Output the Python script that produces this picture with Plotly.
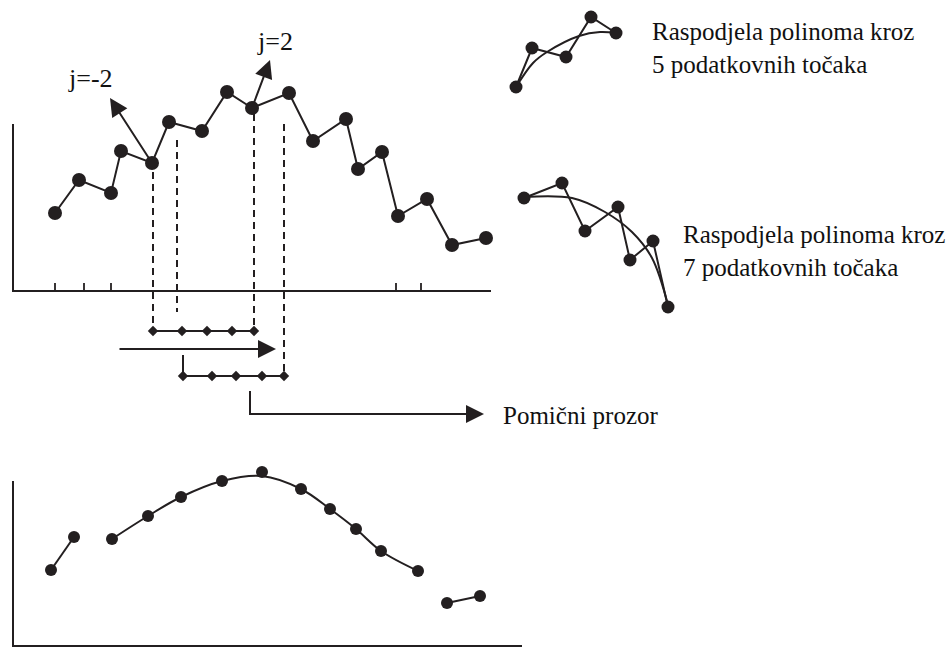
import plotly.graph_objects as go

# ---------------- data (canvas units) ----------------
noisy_x = [55, 79, 111, 121, 152, 169, 202, 227, 252, 289, 313, 346, 358, 382, 398, 427, 452, 486]
noisy_y = [213, 180, 193, 151, 163, 122, 131, 92, 108, 93, 141, 119, 169, 152, 216, 199, 245, 238]

smooth_x = [51, 74, 112, 148, 181, 222, 262, 301, 330, 356, 381, 418, 447, 480]
smooth_y = [570, 537, 539, 516, 497, 481, 472, 489, 509, 529, 551, 571, 603, 596]
curve_x = [112, 148, 181, 222, 262, 301, 330, 356, 381, 418]
curve_y = [539, 516, 497, 481, 476, 489, 509, 529, 551, 571]

five_x = [516, 532, 566, 591, 616]
five_y = [87, 48, 57, 17, 33]
five_fit_x = [516, 533, 547, 579, 600, 616]
five_fit_y = [87, 63, 52, 36, 32, 33]

seven_x = [524, 562, 585, 618, 630, 653, 668]
seven_y = [198, 183, 231, 207, 260, 241, 307]
seven_fit_x = [524, 572, 605, 632, 652, 668]
seven_fit_y = [197, 198, 212, 232, 258, 305]

top_axis_x = [13, 13, 491]
top_axis_y = [124, 291, 291]
top_ticks_x = [55, 84, 111, 396, 421]
bot_axis_x = [13, 13, 522]
bot_axis_y = [481, 646, 646]

dash_x = [153, 177, 254, 284]
dash_top = [172, 140, 114, 124]
dash_bot = [331, 312, 331, 376]

window1_x = [153, 182, 207, 232, 254]
window1_y = 331
window2_x = [183, 212, 236, 262, 284]
window2_y = 376

label_j_neg = "j=-2"
label_j_pos = "j=2"
label_five = "Raspodjela polinoma kroz<br>5 podatkovnih točaka"
label_seven = "Raspodjela polinoma kroz<br>7 podatkovnih točaka"
label_window = "Pomični prozor"

INK = "#231f20"
FONT = "Liberation Serif"

fig = go.Figure()


def line(xs, ys, width=2, dash=None, shape="linear"):
    fig.add_trace(go.Scatter(x=xs, y=ys, mode="lines", hoverinfo="skip",
                             line=dict(color=INK, width=width, dash=dash, shape=shape)))


def pts(xs, ys, size, symbol="circle"):
    fig.add_trace(go.Scatter(x=xs, y=ys, mode="markers", hoverinfo="skip",
                             marker=dict(color=INK, size=size, symbol=symbol, line=dict(width=0))))


# axes of diagram
line(top_axis_x, top_axis_y)
tx, ty = [], []
for t in top_ticks_x:
    tx += [t, t, None]
    ty += [283, 291, None]
line(tx, ty, width=1.8)
line(bot_axis_x, bot_axis_y)

# dashed guide lines
dx, dy = [], []
for x, a, b in zip(dash_x, dash_top, dash_bot):
    dx += [x, x, None]
    dy += [a, b, None]
line(dx, dy, width=2, dash="7px,5px")

# noisy data
line(noisy_x, noisy_y)
pts(noisy_x, noisy_y, 14)

# windows
line(window1_x, [window1_y] * len(window1_x))
pts(window1_x, [window1_y] * len(window1_x), 8, "diamond")
line([window2_x[0], window2_x[0]], [355, window2_y])
line(window2_x, [window2_y] * len(window2_x))
pts(window2_x, [window2_y] * len(window2_x), 8, "diamond")
line([250, 250, 470], [391, 414, 414])

# smoothed data
line(smooth_x[:2], smooth_y[:2])
line(curve_x, curve_y, shape="spline")
line(smooth_x[-2:], smooth_y[-2:])
pts(smooth_x, smooth_y, 12)

# polynomial fits
line(five_x, five_y)
line(five_fit_x, five_fit_y, shape="spline")
pts(five_x, five_y, 13)
line(seven_x, seven_y)
line(seven_fit_x, seven_fit_y, shape="spline")
pts(seven_x, seven_y, 13)

# arrows
arrows = [
    (152, 163, 110, 98),
    (252, 108, 270, 60),
    (118, 349, 276, 349),
    (250, 414, 484, 414),
]
for x0, y0, x1, y1 in arrows:
    fig.add_annotation(x=x1, y=y1, ax=x0, ay=y0, xref="x", yref="y", axref="x", ayref="y",
                       text="", showarrow=True, arrowhead=2, arrowsize=1.8, arrowwidth=2,
                       arrowcolor=INK, standoff=0, startstandoff=0)

# labels
texts = [
    (label_j_neg, 66, 78, 26),
    (label_j_pos, 255, 41, 26),
    (label_five, 650, 48, 25),
    (label_seven, 681, 251, 25),
    (label_window, 501, 415, 25),
]
for txt, x, y, fs in texts:
    fig.add_annotation(x=x, y=y, xref="x", yref="y", text=txt, showarrow=False,
                       xanchor="left", yanchor="middle", align="left",
                       font=dict(family=FONT, size=fs, color="#111111"))

fig.update_layout(
    width=950, height=648, margin=dict(l=0, r=0, t=0, b=0),
    paper_bgcolor="white", plot_bgcolor="white", showlegend=False,
    font=dict(family=FONT),
    xaxis=dict(range=[0, 950], visible=False, fixedrange=True),
    yaxis=dict(range=[648, 0], visible=False, fixedrange=True),
)

fig.write_html("out.html", config={"displayModeBar": False},
               post_script="document.body.style.margin='0';document.body.style.overflow='hidden';")
